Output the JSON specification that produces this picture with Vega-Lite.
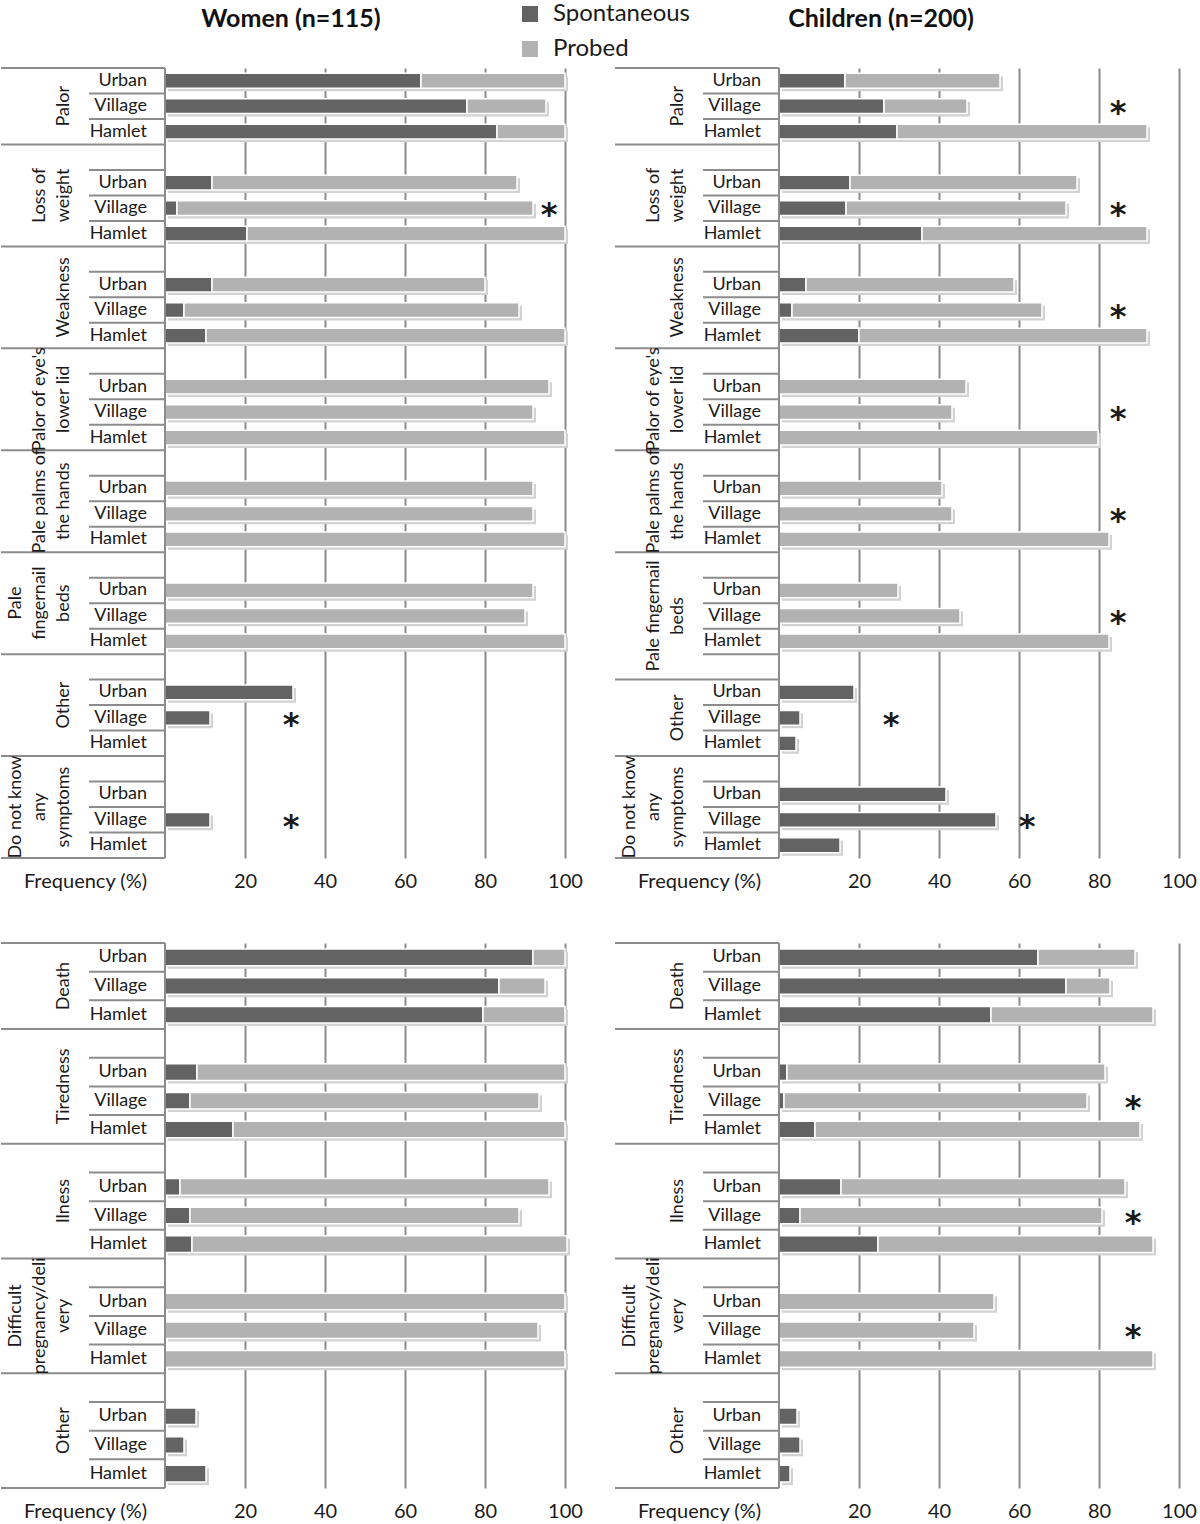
{
"$schema": "https://vega.github.io/schema/vega-lite/v6.json",
"padding": {"top": 2, "left": 0, "right": 0, "bottom": 0},
"background": "white",
"bounds": "flush",
"columns": 2,
"spacing": {"row": 85, "column": 50},
"config": {
  "font": "Lato",
  "view": {"stroke": null},
  "axisX": {"grid": true, "gridColor": "#8c8c8c", "gridWidth": 2, "domain": false, "ticks": false, "labelFontSize": 20, "labelFont": "Lato", "labelColor": "#1a1a1a", "labelBaseline": "middle", "labelPadding": 23, "labelFlush": false, "labelOverlap": false, "titleFont": "Lato", "titleFontSize": 20, "titleFontWeight": "normal", "titleColor": "#1a1a1a", "titleX": 84, "titleY": 23, "titleBaseline": "middle", "titleAlign": "center"},
  "text": {"font": "Lato", "fontSize": 18, "color": "#1a1a1a"},
  "title": {"font": "Lato", "fontSize": 25, "fontWeight": "bold", "color": "#111111", "anchor": "middle", "offset": 35, "baseline": "bottom"}
},
"datasets": {
  "rows": [
    {"panel":"WS","key":"Palor|Urban","sub":"Urban","first":true,"spont":64,"total":100},
    {"panel":"WS","key":"Palor|Village","sub":"Village","first":false,"spont":75.5,"total":95.25},
    {"panel":"WS","key":"Palor|Hamlet","sub":"Hamlet","first":false,"spont":83,"total":100},
    {"panel":"WS","key":"Loss of weight|","sub":"","first":true},
    {"panel":"WS","key":"Loss of weight|Urban","sub":"Urban","first":false,"spont":11.75,"total":88},
    {"panel":"WS","key":"Loss of weight|Village","sub":"Village","first":false,"spont":3,"total":92},
    {"panel":"WS","key":"Loss of weight|Hamlet","sub":"Hamlet","first":false,"spont":20.5,"total":100},
    {"panel":"WS","key":"Weakness|","sub":"","first":true},
    {"panel":"WS","key":"Weakness|Urban","sub":"Urban","first":false,"spont":11.75,"total":80},
    {"panel":"WS","key":"Weakness|Village","sub":"Village","first":false,"spont":4.75,"total":88.5},
    {"panel":"WS","key":"Weakness|Hamlet","sub":"Hamlet","first":false,"spont":10.25,"total":100},
    {"panel":"WS","key":"Palor of eye's lower lid|","sub":"","first":true},
    {"panel":"WS","key":"Palor of eye's lower lid|Urban","sub":"Urban","first":false,"spont":0,"total":96},
    {"panel":"WS","key":"Palor of eye's lower lid|Village","sub":"Village","first":false,"spont":0,"total":92},
    {"panel":"WS","key":"Palor of eye's lower lid|Hamlet","sub":"Hamlet","first":false,"spont":0,"total":100},
    {"panel":"WS","key":"Pale palms of the hands|","sub":"","first":true},
    {"panel":"WS","key":"Pale palms of the hands|Urban","sub":"Urban","first":false,"spont":0,"total":92},
    {"panel":"WS","key":"Pale palms of the hands|Village","sub":"Village","first":false,"spont":0,"total":92},
    {"panel":"WS","key":"Pale palms of the hands|Hamlet","sub":"Hamlet","first":false,"spont":0,"total":100},
    {"panel":"WS","key":"Pale fingernail beds|","sub":"","first":true},
    {"panel":"WS","key":"Pale fingernail beds|Urban","sub":"Urban","first":false,"spont":0,"total":92},
    {"panel":"WS","key":"Pale fingernail beds|Village","sub":"Village","first":false,"spont":0,"total":90},
    {"panel":"WS","key":"Pale fingernail beds|Hamlet","sub":"Hamlet","first":false,"spont":0,"total":100},
    {"panel":"WS","key":"Other|","sub":"","first":true},
    {"panel":"WS","key":"Other|Urban","sub":"Urban","first":false,"spont":32,"total":32},
    {"panel":"WS","key":"Other|Village","sub":"Village","first":false,"spont":11.25,"total":11.25},
    {"panel":"WS","key":"Other|Hamlet","sub":"Hamlet","first":false,"spont":0,"total":0},
    {"panel":"WS","key":"Do not know any symptoms|","sub":"","first":true},
    {"panel":"WS","key":"Do not know any symptoms|Urban","sub":"Urban","first":false,"spont":0,"total":0},
    {"panel":"WS","key":"Do not know any symptoms|Village","sub":"Village","first":false,"spont":11.25,"total":11.25},
    {"panel":"WS","key":"Do not know any symptoms|Hamlet","sub":"Hamlet","first":false,"spont":0,"total":0},

    {"panel":"CS","key":"Palor|Urban","sub":"Urban","first":true,"spont":16.5,"total":55.25},
    {"panel":"CS","key":"Palor|Village","sub":"Village","first":false,"spont":26.25,"total":47},
    {"panel":"CS","key":"Palor|Hamlet","sub":"Hamlet","first":false,"spont":29.5,"total":92},
    {"panel":"CS","key":"Loss of weight|","sub":"","first":true},
    {"panel":"CS","key":"Loss of weight|Urban","sub":"Urban","first":false,"spont":17.75,"total":74.5},
    {"panel":"CS","key":"Loss of weight|Village","sub":"Village","first":false,"spont":16.75,"total":71.75},
    {"panel":"CS","key":"Loss of weight|Hamlet","sub":"Hamlet","first":false,"spont":35.75,"total":92},
    {"panel":"CS","key":"Weakness|","sub":"","first":true},
    {"panel":"CS","key":"Weakness|Urban","sub":"Urban","first":false,"spont":6.75,"total":58.75},
    {"panel":"CS","key":"Weakness|Village","sub":"Village","first":false,"spont":3.25,"total":65.75},
    {"panel":"CS","key":"Weakness|Hamlet","sub":"Hamlet","first":false,"spont":20,"total":92},
    {"panel":"CS","key":"Palor of eye's lower lid|","sub":"","first":true},
    {"panel":"CS","key":"Palor of eye's lower lid|Urban","sub":"Urban","first":false,"spont":0,"total":46.75},
    {"panel":"CS","key":"Palor of eye's lower lid|Village","sub":"Village","first":false,"spont":0,"total":43.25},
    {"panel":"CS","key":"Palor of eye's lower lid|Hamlet","sub":"Hamlet","first":false,"spont":0,"total":79.75},
    {"panel":"CS","key":"Pale palms of the hands|","sub":"","first":true},
    {"panel":"CS","key":"Pale palms of the hands|Urban","sub":"Urban","first":false,"spont":0,"total":40.75},
    {"panel":"CS","key":"Pale palms of the hands|Village","sub":"Village","first":false,"spont":0,"total":43.25},
    {"panel":"CS","key":"Pale palms of the hands|Hamlet","sub":"Hamlet","first":false,"spont":0,"total":82.5},
    {"panel":"CS","key":"Pale fingernail beds|","sub":"","first":true},
    {"panel":"CS","key":"Pale fingernail beds|Urban","sub":"Urban","first":false,"spont":0,"total":29.75},
    {"panel":"CS","key":"Pale fingernail beds|Village","sub":"Village","first":false,"spont":0,"total":45.25},
    {"panel":"CS","key":"Pale fingernail beds|Hamlet","sub":"Hamlet","first":false,"spont":0,"total":82.5},
    {"panel":"CS","key":"Other|","sub":"","first":false},
    {"panel":"CS","key":"Other|Urban","sub":"Urban","first":true,"spont":18.75,"total":18.75},
    {"panel":"CS","key":"Other|Village","sub":"Village","first":false,"spont":5.25,"total":5.25},
    {"panel":"CS","key":"Other|Hamlet","sub":"Hamlet","first":false,"spont":4.25,"total":4.25},
    {"panel":"CS","key":"Do not know any symptoms|","sub":"","first":true},
    {"panel":"CS","key":"Do not know any symptoms|Urban","sub":"Urban","first":false,"spont":41.75,"total":41.75},
    {"panel":"CS","key":"Do not know any symptoms|Village","sub":"Village","first":false,"spont":54.25,"total":54.25},
    {"panel":"CS","key":"Do not know any symptoms|Hamlet","sub":"Hamlet","first":false,"spont":15.25,"total":15.25},

    {"panel":"WC","key":"Death|Urban","sub":"Urban","first":true,"spont":92,"total":100},
    {"panel":"WC","key":"Death|Village","sub":"Village","first":false,"spont":83.5,"total":95},
    {"panel":"WC","key":"Death|Hamlet","sub":"Hamlet","first":false,"spont":79.5,"total":100},
    {"panel":"WC","key":"Tiredness|","sub":"","first":true},
    {"panel":"WC","key":"Tiredness|Urban","sub":"Urban","first":false,"spont":8,"total":100},
    {"panel":"WC","key":"Tiredness|Village","sub":"Village","first":false,"spont":6.25,"total":93.5},
    {"panel":"WC","key":"Tiredness|Hamlet","sub":"Hamlet","first":false,"spont":17,"total":100},
    {"panel":"WC","key":"Ilness|","sub":"","first":true},
    {"panel":"WC","key":"Ilness|Urban","sub":"Urban","first":false,"spont":3.75,"total":96},
    {"panel":"WC","key":"Ilness|Village","sub":"Village","first":false,"spont":6.25,"total":88.5},
    {"panel":"WC","key":"Ilness|Hamlet","sub":"Hamlet","first":false,"spont":6.75,"total":100.5},
    {"panel":"WC","key":"Difficult pregnancy/delivery|","sub":"","first":true},
    {"panel":"WC","key":"Difficult pregnancy/delivery|Urban","sub":"Urban","first":false,"spont":0,"total":100},
    {"panel":"WC","key":"Difficult pregnancy/delivery|Village","sub":"Village","first":false,"spont":0,"total":93.25},
    {"panel":"WC","key":"Difficult pregnancy/delivery|Hamlet","sub":"Hamlet","first":false,"spont":0,"total":100},
    {"panel":"WC","key":"Other|","sub":"","first":true},
    {"panel":"WC","key":"Other|Urban","sub":"Urban","first":false,"spont":7.75,"total":7.75},
    {"panel":"WC","key":"Other|Village","sub":"Village","first":false,"spont":4.75,"total":4.75},
    {"panel":"WC","key":"Other|Hamlet","sub":"Hamlet","first":false,"spont":10.25,"total":10.25},

    {"panel":"CC","key":"Death|Urban","sub":"Urban","first":true,"spont":64.75,"total":89},
    {"panel":"CC","key":"Death|Village","sub":"Village","first":false,"spont":71.75,"total":82.75},
    {"panel":"CC","key":"Death|Hamlet","sub":"Hamlet","first":false,"spont":53,"total":93.5},
    {"panel":"CC","key":"Tiredness|","sub":"","first":true},
    {"panel":"CC","key":"Tiredness|Urban","sub":"Urban","first":false,"spont":2,"total":81.5},
    {"panel":"CC","key":"Tiredness|Village","sub":"Village","first":false,"spont":1.25,"total":77},
    {"panel":"CC","key":"Tiredness|Hamlet","sub":"Hamlet","first":false,"spont":9,"total":90.25},
    {"panel":"CC","key":"Ilness|","sub":"","first":true},
    {"panel":"CC","key":"Ilness|Urban","sub":"Urban","first":false,"spont":15.5,"total":86.5},
    {"panel":"CC","key":"Ilness|Village","sub":"Village","first":false,"spont":5.25,"total":80.75},
    {"panel":"CC","key":"Ilness|Hamlet","sub":"Hamlet","first":false,"spont":24.75,"total":93.5},
    {"panel":"CC","key":"Difficult pregnancy/delivery|","sub":"","first":true},
    {"panel":"CC","key":"Difficult pregnancy/delivery|Urban","sub":"Urban","first":false,"spont":0,"total":53.75},
    {"panel":"CC","key":"Difficult pregnancy/delivery|Village","sub":"Village","first":false,"spont":0,"total":48.75},
    {"panel":"CC","key":"Difficult pregnancy/delivery|Hamlet","sub":"Hamlet","first":false,"spont":0,"total":93.5},
    {"panel":"CC","key":"Other|","sub":"","first":true},
    {"panel":"CC","key":"Other|Urban","sub":"Urban","first":false,"spont":4.5,"total":4.5},
    {"panel":"CC","key":"Other|Village","sub":"Village","first":false,"spont":5.25,"total":5.25},
    {"panel":"CC","key":"Other|Hamlet","sub":"Hamlet","first":false,"spont":2.75,"total":2.75}
  ],
  "groups": [
    {"panel":"WS","label":"Palor","akey":"Palor|Village","mid":true},
    {"panel":"WS","label":"Loss of\nweight","akey":"Loss of weight|Village","mid":false},
    {"panel":"WS","label":"Weakness","akey":"Weakness|Village","mid":false},
    {"panel":"WS","label":"Palor of eye's\nlower lid","akey":"Palor of eye's lower lid|Village","mid":false},
    {"panel":"WS","label":"Pale palms of\nthe hands","akey":"Pale palms of the hands|Village","mid":false},
    {"panel":"WS","label":"Pale\nfingernail\nbeds","akey":"Pale fingernail beds|Village","mid":false},
    {"panel":"WS","label":"Other","akey":"Other|Village","mid":false},
    {"panel":"WS","label":"Do not know\nany\nsymptoms","akey":"Do not know any symptoms|Village","mid":false},
    {"panel":"CS","label":"Palor","akey":"Palor|Village","mid":true},
    {"panel":"CS","label":"Loss of\nweight","akey":"Loss of weight|Village","mid":false},
    {"panel":"CS","label":"Weakness","akey":"Weakness|Village","mid":false},
    {"panel":"CS","label":"Palor of eye's\nlower lid","akey":"Palor of eye's lower lid|Village","mid":false},
    {"panel":"CS","label":"Pale palms of\nthe hands","akey":"Pale palms of the hands|Village","mid":false},
    {"panel":"CS","label":"Pale fingernail\nbeds","akey":"Pale fingernail beds|Village","mid":true},
    {"panel":"CS","label":"Other","akey":"Other|Village","mid":true},
    {"panel":"CS","label":"Do not know\nany\nsymptoms","akey":"Do not know any symptoms|Village","mid":false},
    {"panel":"WC","label":"Death","akey":"Death|Village","mid":true},
    {"panel":"WC","label":"Tiredness","akey":"Tiredness|Village","mid":false},
    {"panel":"WC","label":"Ilness","akey":"Ilness|Village","mid":false},
    {"panel":"WC","label":"Difficult\npregnancy/deli\nvery","akey":"Difficult pregnancy/delivery|Village","mid":false},
    {"panel":"WC","label":"Other","akey":"Other|Village","mid":false},
    {"panel":"CC","label":"Death","akey":"Death|Village","mid":true},
    {"panel":"CC","label":"Tiredness","akey":"Tiredness|Village","mid":false},
    {"panel":"CC","label":"Ilness","akey":"Ilness|Village","mid":false},
    {"panel":"CC","label":"Difficult\npregnancy/deli\nvery","akey":"Difficult pregnancy/delivery|Village","mid":false},
    {"panel":"CC","label":"Other","akey":"Other|Village","mid":false}
  ],
  "stars": [
    {"panel":"WS","akey":"Loss of weight|Village","x":96},
    {"panel":"WS","akey":"Other|Village","x":31.5},
    {"panel":"WS","akey":"Do not know any symptoms|Village","x":31.5},
    {"panel":"CS","akey":"Palor|Village","x":84.75},
    {"panel":"CS","akey":"Loss of weight|Village","x":84.75},
    {"panel":"CS","akey":"Weakness|Village","x":84.75},
    {"panel":"CS","akey":"Palor of eye's lower lid|Village","x":84.75},
    {"panel":"CS","akey":"Pale palms of the hands|Village","x":84.75},
    {"panel":"CS","akey":"Pale fingernail beds|Village","x":84.75},
    {"panel":"CS","akey":"Other|Village","x":28},
    {"panel":"CS","akey":"Do not know any symptoms|Village","x":62},
    {"panel":"CC","akey":"Tiredness|Village","x":88.5},
    {"panel":"CC","akey":"Ilness|Village","x":88.5},
    {"panel":"CC","akey":"Difficult pregnancy/delivery|Village","x":88.5}
  ]
},
"concat": [
{
  "width": 564, "height": 790,
  "title": {"text": "Women (n=115)", "dx": 8},
  "data": {"name": "rows"},
  "transform": [{"filter": "datum.panel === 'WS'"}],
  "layer": [
    {"transform": [{"filter": "!datum.first"}],
     "mark": {"type": "rule", "color": "#8c8c8c", "strokeWidth": 2},
     "encoding": {
       "y": {"field": "key", "type": "nominal", "bandPosition": 0, "axis": null,
             "scale": {"paddingInner": 0, "paddingOuter": 0, "domain": ["Palor|Urban","Palor|Village","Palor|Hamlet","Loss of weight|","Loss of weight|Urban","Loss of weight|Village","Loss of weight|Hamlet","Weakness|","Weakness|Urban","Weakness|Village","Weakness|Hamlet","Palor of eye's lower lid|","Palor of eye's lower lid|Urban","Palor of eye's lower lid|Village","Palor of eye's lower lid|Hamlet","Pale palms of the hands|","Pale palms of the hands|Urban","Pale palms of the hands|Village","Pale palms of the hands|Hamlet","Pale fingernail beds|","Pale fingernail beds|Urban","Pale fingernail beds|Village","Pale fingernail beds|Hamlet","Other|","Other|Urban","Other|Village","Other|Hamlet","Do not know any symptoms|","Do not know any symptoms|Urban","Do not know any symptoms|Village","Do not know any symptoms|Hamlet"]}},
       "x": {"datum": -19, "type": "quantitative", "scale": {"domain": [-41, 100], "nice": false, "zero": false},
             "axis": {"values": [20, 40, 60, 80, 100], "title": "Frequency (%)"}},
       "x2": {"datum": 0, "type": "quantitative"}}},
    {"transform": [{"filter": "datum.first"}],
     "mark": {"type": "rule", "color": "#8c8c8c", "strokeWidth": 2},
     "encoding": {"y": {"field": "key", "type": "nominal", "bandPosition": 0}, "x": {"datum": -41, "type": "quantitative"}, "x2": {"datum": 0, "type": "quantitative"}}},
    {"transform": [{"filter": "datum.key === 'Do not know any symptoms|Hamlet'"}],
     "mark": {"type": "rule", "color": "#8c8c8c", "strokeWidth": 2},
     "encoding": {"y": {"field": "key", "type": "nominal", "bandPosition": 1}, "x": {"datum": -41, "type": "quantitative"}, "x2": {"datum": 0, "type": "quantitative"}}},
    {"transform": [{"filter": "datum.total > 0"}],
     "mark": {"type": "bar", "height": {"band": 0.58}, "color": "#d2d2d2", "xOffset": 3, "x2Offset": 3, "yOffset": 3, "y2Offset": 3},
     "encoding": {"y": {"field": "key", "type": "nominal"}, "x": {"field": "total", "type": "quantitative"}}},
    {"transform": [{"filter": "datum.spont > 0"}],
     "mark": {"type": "bar", "height": {"band": 0.58}, "stroke": "white", "strokeWidth": 1.5},
     "encoding": {"y": {"field": "key", "type": "nominal"}, "x": {"field": "spont", "type": "quantitative"},
       "color": {"datum": "Spontaneous", "type": "nominal",
         "scale": {"domain": ["Spontaneous", "Probed"], "range": ["#636363", "#b2b2b2"]},
         "legend": {"orient": "none", "legendX": 517, "legendY": -66, "title": null, "symbolType": "square", "symbolSize": 256, "symbolStrokeWidth": 0, "labelFontSize": 24, "labelFont": "Lato", "labelColor": "#1a1a1a", "labelOffset": 11, "rowPadding": 11, "padding": 0, "direction": "vertical"}}}},
    {"transform": [{"filter": "datum.total > datum.spont"}],
     "mark": {"type": "bar", "height": {"band": 0.58}, "stroke": "white", "strokeWidth": 1.5},
     "encoding": {"y": {"field": "key", "type": "nominal"}, "x": {"field": "spont", "type": "quantitative"}, "x2": {"field": "total"},
       "color": {"datum": "Probed", "type": "nominal"}}},
    {"data": {"values": [{}]},
     "mark": {"type": "rule", "color": "#8c8c8c", "strokeWidth": 2},
     "encoding": {"x": {"datum": 0, "type": "quantitative"}}},
    {"transform": [{"filter": "datum.sub !== ''"}],
     "mark": {"type": "text", "align": "right", "baseline": "middle"},
     "encoding": {"y": {"field": "key", "type": "nominal"}, "x": {"datum": -4.5, "type": "quantitative"}, "text": {"field": "sub", "type": "nominal"}}},
    {"data": {"name": "groups"}, "transform": [{"filter": "datum.panel === 'WS' && datum.mid && length(split(datum.label, '\\n')) === 1"}],
     "mark": {"type": "text", "angle": 270, "align": "center", "baseline": "bottom", "lineBreak": "\n", "lineHeight": 24},
     "encoding": {"y": {"field": "akey", "type": "nominal", "bandPosition": 0.5}, "x": {"datum": -23, "type": "quantitative"}, "text": {"field": "label", "type": "nominal"}}},
    {"data": {"name": "groups"}, "transform": [{"filter": "datum.panel === 'WS' && !datum.mid && length(split(datum.label, '\\n')) === 1"}],
     "mark": {"type": "text", "angle": 270, "align": "center", "baseline": "bottom", "lineBreak": "\n", "lineHeight": 24},
     "encoding": {"y": {"field": "akey", "type": "nominal", "bandPosition": 0}, "x": {"datum": -23, "type": "quantitative"}, "text": {"field": "label", "type": "nominal"}}},
    {"data": {"name": "groups"}, "transform": [{"filter": "datum.panel === 'WS' && !datum.mid && length(split(datum.label, '\\n')) === 2"}],
     "mark": {"type": "text", "angle": 270, "align": "center", "baseline": "bottom", "lineBreak": "\n", "lineHeight": 24},
     "encoding": {"y": {"field": "akey", "type": "nominal", "bandPosition": 0}, "x": {"datum": -29, "type": "quantitative"}, "text": {"field": "label", "type": "nominal"}}},
    {"data": {"name": "groups"}, "transform": [{"filter": "datum.panel === 'WS' && !datum.mid && length(split(datum.label, '\\n')) === 3"}],
     "mark": {"type": "text", "angle": 270, "align": "center", "baseline": "bottom", "lineBreak": "\n", "lineHeight": 24},
     "encoding": {"y": {"field": "akey", "type": "nominal", "bandPosition": 0}, "x": {"datum": -35, "type": "quantitative"}, "text": {"field": "label", "type": "nominal"}}},
    {"data": {"name": "stars"}, "transform": [{"filter": "datum.panel === 'WS'"}],
     "mark": {"type": "text", "font": "DejaVu Sans", "fontWeight": "bold", "fontSize": 32, "align": "center", "baseline": "alphabetic", "dy": 17},
     "encoding": {"y": {"field": "akey", "type": "nominal"}, "x": {"field": "x", "type": "quantitative"}, "text": {"value": "*"}}}
  ]
},
{
  "width": 564, "height": 790,
  "title": {"text": "Children (n=200)", "dx": -16},
  "data": {"name": "rows"},
  "transform": [{"filter": "datum.panel === 'CS'"}],
  "layer": [
    {"transform": [{"filter": "!datum.first"}],
     "mark": {"type": "rule", "color": "#8c8c8c", "strokeWidth": 2},
     "encoding": {
       "y": {"field": "key", "type": "nominal", "bandPosition": 0, "axis": null,
             "scale": {"paddingInner": 0, "paddingOuter": 0, "domain": ["Palor|Urban","Palor|Village","Palor|Hamlet","Loss of weight|","Loss of weight|Urban","Loss of weight|Village","Loss of weight|Hamlet","Weakness|","Weakness|Urban","Weakness|Village","Weakness|Hamlet","Palor of eye's lower lid|","Palor of eye's lower lid|Urban","Palor of eye's lower lid|Village","Palor of eye's lower lid|Hamlet","Pale palms of the hands|","Pale palms of the hands|Urban","Pale palms of the hands|Village","Pale palms of the hands|Hamlet","Pale fingernail beds|","Pale fingernail beds|Urban","Pale fingernail beds|Village","Pale fingernail beds|Hamlet","Other|","Other|Urban","Other|Village","Other|Hamlet","Do not know any symptoms|","Do not know any symptoms|Urban","Do not know any symptoms|Village","Do not know any symptoms|Hamlet"]}},
       "x": {"datum": -19, "type": "quantitative", "scale": {"domain": [-41, 100], "nice": false, "zero": false},
             "axis": {"values": [20, 40, 60, 80, 100], "title": "Frequency (%)"}},
       "x2": {"datum": 0, "type": "quantitative"}}},
    {"transform": [{"filter": "datum.first"}],
     "mark": {"type": "rule", "color": "#8c8c8c", "strokeWidth": 2},
     "encoding": {"y": {"field": "key", "type": "nominal", "bandPosition": 0}, "x": {"datum": -41, "type": "quantitative"}, "x2": {"datum": 0, "type": "quantitative"}}},
    {"transform": [{"filter": "datum.key === 'Do not know any symptoms|Hamlet'"}],
     "mark": {"type": "rule", "color": "#8c8c8c", "strokeWidth": 2},
     "encoding": {"y": {"field": "key", "type": "nominal", "bandPosition": 1}, "x": {"datum": -41, "type": "quantitative"}, "x2": {"datum": 0, "type": "quantitative"}}},
    {"transform": [{"filter": "datum.total > 0"}],
     "mark": {"type": "bar", "height": {"band": 0.58}, "color": "#d2d2d2", "xOffset": 3, "x2Offset": 3, "yOffset": 3, "y2Offset": 3},
     "encoding": {"y": {"field": "key", "type": "nominal"}, "x": {"field": "total", "type": "quantitative"}}},
    {"transform": [{"filter": "datum.spont > 0"}],
     "mark": {"type": "bar", "height": {"band": 0.58}, "stroke": "white", "strokeWidth": 1.5},
     "encoding": {"y": {"field": "key", "type": "nominal"}, "x": {"field": "spont", "type": "quantitative"},
       "color": {"datum": "Spontaneous", "type": "nominal"}}},
    {"transform": [{"filter": "datum.total > datum.spont"}],
     "mark": {"type": "bar", "height": {"band": 0.58}, "stroke": "white", "strokeWidth": 1.5},
     "encoding": {"y": {"field": "key", "type": "nominal"}, "x": {"field": "spont", "type": "quantitative"}, "x2": {"field": "total"},
       "color": {"datum": "Probed", "type": "nominal"}}},
    {"data": {"values": [{}]},
     "mark": {"type": "rule", "color": "#8c8c8c", "strokeWidth": 2},
     "encoding": {"x": {"datum": 0, "type": "quantitative"}}},
    {"transform": [{"filter": "datum.sub !== ''"}],
     "mark": {"type": "text", "align": "right", "baseline": "middle"},
     "encoding": {"y": {"field": "key", "type": "nominal"}, "x": {"datum": -4.5, "type": "quantitative"}, "text": {"field": "sub", "type": "nominal"}}},
    {"data": {"name": "groups"}, "transform": [{"filter": "datum.panel === 'CS' && datum.mid && length(split(datum.label, '\\n')) === 1"}],
     "mark": {"type": "text", "angle": 270, "align": "center", "baseline": "bottom", "lineBreak": "\n", "lineHeight": 24},
     "encoding": {"y": {"field": "akey", "type": "nominal", "bandPosition": 0.5}, "x": {"datum": -23, "type": "quantitative"}, "text": {"field": "label", "type": "nominal"}}},
    {"data": {"name": "groups"}, "transform": [{"filter": "datum.panel === 'CS' && datum.mid && length(split(datum.label, '\\n')) === 2"}],
     "mark": {"type": "text", "angle": 270, "align": "center", "baseline": "bottom", "lineBreak": "\n", "lineHeight": 24},
     "encoding": {"y": {"field": "akey", "type": "nominal", "bandPosition": 0.5}, "x": {"datum": -29, "type": "quantitative"}, "text": {"field": "label", "type": "nominal"}}},
    {"data": {"name": "groups"}, "transform": [{"filter": "datum.panel === 'CS' && !datum.mid && length(split(datum.label, '\\n')) === 1"}],
     "mark": {"type": "text", "angle": 270, "align": "center", "baseline": "bottom", "lineBreak": "\n", "lineHeight": 24},
     "encoding": {"y": {"field": "akey", "type": "nominal", "bandPosition": 0}, "x": {"datum": -23, "type": "quantitative"}, "text": {"field": "label", "type": "nominal"}}},
    {"data": {"name": "groups"}, "transform": [{"filter": "datum.panel === 'CS' && !datum.mid && length(split(datum.label, '\\n')) === 2"}],
     "mark": {"type": "text", "angle": 270, "align": "center", "baseline": "bottom", "lineBreak": "\n", "lineHeight": 24},
     "encoding": {"y": {"field": "akey", "type": "nominal", "bandPosition": 0}, "x": {"datum": -29, "type": "quantitative"}, "text": {"field": "label", "type": "nominal"}}},
    {"data": {"name": "groups"}, "transform": [{"filter": "datum.panel === 'CS' && !datum.mid && length(split(datum.label, '\\n')) === 3"}],
     "mark": {"type": "text", "angle": 270, "align": "center", "baseline": "bottom", "lineBreak": "\n", "lineHeight": 24},
     "encoding": {"y": {"field": "akey", "type": "nominal", "bandPosition": 0}, "x": {"datum": -35, "type": "quantitative"}, "text": {"field": "label", "type": "nominal"}}},
    {"data": {"name": "stars"}, "transform": [{"filter": "datum.panel === 'CS'"}],
     "mark": {"type": "text", "font": "DejaVu Sans", "fontWeight": "bold", "fontSize": 32, "align": "center", "baseline": "alphabetic", "dy": 17},
     "encoding": {"y": {"field": "akey", "type": "nominal"}, "x": {"field": "x", "type": "quantitative"}, "text": {"value": "*"}}}
  ]
},
{
  "width": 564, "height": 545,
  "data": {"name": "rows"},
  "transform": [{"filter": "datum.panel === 'WC'"}],
  "layer": [
    {"transform": [{"filter": "!datum.first"}],
     "mark": {"type": "rule", "color": "#8c8c8c", "strokeWidth": 2},
     "encoding": {
       "y": {"field": "key", "type": "nominal", "bandPosition": 0, "axis": null,
             "scale": {"paddingInner": 0, "paddingOuter": 0, "domain": ["Death|Urban","Death|Village","Death|Hamlet","Tiredness|","Tiredness|Urban","Tiredness|Village","Tiredness|Hamlet","Ilness|","Ilness|Urban","Ilness|Village","Ilness|Hamlet","Difficult pregnancy/delivery|","Difficult pregnancy/delivery|Urban","Difficult pregnancy/delivery|Village","Difficult pregnancy/delivery|Hamlet","Other|","Other|Urban","Other|Village","Other|Hamlet"]}},
       "x": {"datum": -19, "type": "quantitative", "scale": {"domain": [-41, 100], "nice": false, "zero": false},
             "axis": {"values": [20, 40, 60, 80, 100], "title": "Frequency (%)"}},
       "x2": {"datum": 0, "type": "quantitative"}}},
    {"transform": [{"filter": "datum.first"}],
     "mark": {"type": "rule", "color": "#8c8c8c", "strokeWidth": 2},
     "encoding": {"y": {"field": "key", "type": "nominal", "bandPosition": 0}, "x": {"datum": -41, "type": "quantitative"}, "x2": {"datum": 0, "type": "quantitative"}}},
    {"transform": [{"filter": "datum.key === 'Other|Hamlet'"}],
     "mark": {"type": "rule", "color": "#8c8c8c", "strokeWidth": 2},
     "encoding": {"y": {"field": "key", "type": "nominal", "bandPosition": 1}, "x": {"datum": -41, "type": "quantitative"}, "x2": {"datum": 0, "type": "quantitative"}}},
    {"transform": [{"filter": "datum.total > 0"}],
     "mark": {"type": "bar", "height": {"band": 0.58}, "color": "#d2d2d2", "xOffset": 3, "x2Offset": 3, "yOffset": 3, "y2Offset": 3},
     "encoding": {"y": {"field": "key", "type": "nominal"}, "x": {"field": "total", "type": "quantitative"}}},
    {"transform": [{"filter": "datum.spont > 0"}],
     "mark": {"type": "bar", "height": {"band": 0.58}, "stroke": "white", "strokeWidth": 1.5},
     "encoding": {"y": {"field": "key", "type": "nominal"}, "x": {"field": "spont", "type": "quantitative"},
       "color": {"datum": "Spontaneous", "type": "nominal"}}},
    {"transform": [{"filter": "datum.total > datum.spont"}],
     "mark": {"type": "bar", "height": {"band": 0.58}, "stroke": "white", "strokeWidth": 1.5},
     "encoding": {"y": {"field": "key", "type": "nominal"}, "x": {"field": "spont", "type": "quantitative"}, "x2": {"field": "total"},
       "color": {"datum": "Probed", "type": "nominal"}}},
    {"data": {"values": [{}]},
     "mark": {"type": "rule", "color": "#8c8c8c", "strokeWidth": 2},
     "encoding": {"x": {"datum": 0, "type": "quantitative"}}},
    {"transform": [{"filter": "datum.sub !== ''"}],
     "mark": {"type": "text", "align": "right", "baseline": "middle"},
     "encoding": {"y": {"field": "key", "type": "nominal"}, "x": {"datum": -4.5, "type": "quantitative"}, "text": {"field": "sub", "type": "nominal"}}},
    {"data": {"name": "groups"}, "transform": [{"filter": "datum.panel === 'WC' && datum.mid && length(split(datum.label, '\\n')) === 1"}],
     "mark": {"type": "text", "angle": 270, "align": "center", "baseline": "bottom", "lineBreak": "\n", "lineHeight": 24},
     "encoding": {"y": {"field": "akey", "type": "nominal", "bandPosition": 0.5}, "x": {"datum": -23, "type": "quantitative"}, "text": {"field": "label", "type": "nominal"}}},
    {"data": {"name": "groups"}, "transform": [{"filter": "datum.panel === 'WC' && !datum.mid && length(split(datum.label, '\\n')) === 1"}],
     "mark": {"type": "text", "angle": 270, "align": "center", "baseline": "bottom", "lineBreak": "\n", "lineHeight": 24},
     "encoding": {"y": {"field": "akey", "type": "nominal", "bandPosition": 0}, "x": {"datum": -23, "type": "quantitative"}, "text": {"field": "label", "type": "nominal"}}},
    {"data": {"name": "groups"}, "transform": [{"filter": "datum.panel === 'WC' && !datum.mid && length(split(datum.label, '\\n')) === 3"}],
     "mark": {"type": "text", "angle": 270, "align": "center", "baseline": "bottom", "lineBreak": "\n", "lineHeight": 24},
     "encoding": {"y": {"field": "akey", "type": "nominal", "bandPosition": 0}, "x": {"datum": -35, "type": "quantitative"}, "text": {"field": "label", "type": "nominal"}}}
  ]
},
{
  "width": 564, "height": 545,
  "data": {"name": "rows"},
  "transform": [{"filter": "datum.panel === 'CC'"}],
  "layer": [
    {"transform": [{"filter": "!datum.first"}],
     "mark": {"type": "rule", "color": "#8c8c8c", "strokeWidth": 2},
     "encoding": {
       "y": {"field": "key", "type": "nominal", "bandPosition": 0, "axis": null,
             "scale": {"paddingInner": 0, "paddingOuter": 0, "domain": ["Death|Urban","Death|Village","Death|Hamlet","Tiredness|","Tiredness|Urban","Tiredness|Village","Tiredness|Hamlet","Ilness|","Ilness|Urban","Ilness|Village","Ilness|Hamlet","Difficult pregnancy/delivery|","Difficult pregnancy/delivery|Urban","Difficult pregnancy/delivery|Village","Difficult pregnancy/delivery|Hamlet","Other|","Other|Urban","Other|Village","Other|Hamlet"]}},
       "x": {"datum": -19, "type": "quantitative", "scale": {"domain": [-41, 100], "nice": false, "zero": false},
             "axis": {"values": [20, 40, 60, 80, 100], "title": "Frequency (%)"}},
       "x2": {"datum": 0, "type": "quantitative"}}},
    {"transform": [{"filter": "datum.first"}],
     "mark": {"type": "rule", "color": "#8c8c8c", "strokeWidth": 2},
     "encoding": {"y": {"field": "key", "type": "nominal", "bandPosition": 0}, "x": {"datum": -41, "type": "quantitative"}, "x2": {"datum": 0, "type": "quantitative"}}},
    {"transform": [{"filter": "datum.key === 'Other|Hamlet'"}],
     "mark": {"type": "rule", "color": "#8c8c8c", "strokeWidth": 2},
     "encoding": {"y": {"field": "key", "type": "nominal", "bandPosition": 1}, "x": {"datum": -41, "type": "quantitative"}, "x2": {"datum": 0, "type": "quantitative"}}},
    {"transform": [{"filter": "datum.total > 0"}],
     "mark": {"type": "bar", "height": {"band": 0.58}, "color": "#d2d2d2", "xOffset": 3, "x2Offset": 3, "yOffset": 3, "y2Offset": 3},
     "encoding": {"y": {"field": "key", "type": "nominal"}, "x": {"field": "total", "type": "quantitative"}}},
    {"transform": [{"filter": "datum.spont > 0"}],
     "mark": {"type": "bar", "height": {"band": 0.58}, "stroke": "white", "strokeWidth": 1.5},
     "encoding": {"y": {"field": "key", "type": "nominal"}, "x": {"field": "spont", "type": "quantitative"},
       "color": {"datum": "Spontaneous", "type": "nominal"}}},
    {"transform": [{"filter": "datum.total > datum.spont"}],
     "mark": {"type": "bar", "height": {"band": 0.58}, "stroke": "white", "strokeWidth": 1.5},
     "encoding": {"y": {"field": "key", "type": "nominal"}, "x": {"field": "spont", "type": "quantitative"}, "x2": {"field": "total"},
       "color": {"datum": "Probed", "type": "nominal"}}},
    {"data": {"values": [{}]},
     "mark": {"type": "rule", "color": "#8c8c8c", "strokeWidth": 2},
     "encoding": {"x": {"datum": 0, "type": "quantitative"}}},
    {"transform": [{"filter": "datum.sub !== ''"}],
     "mark": {"type": "text", "align": "right", "baseline": "middle"},
     "encoding": {"y": {"field": "key", "type": "nominal"}, "x": {"datum": -4.5, "type": "quantitative"}, "text": {"field": "sub", "type": "nominal"}}},
    {"data": {"name": "groups"}, "transform": [{"filter": "datum.panel === 'CC' && datum.mid && length(split(datum.label, '\\n')) === 1"}],
     "mark": {"type": "text", "angle": 270, "align": "center", "baseline": "bottom", "lineBreak": "\n", "lineHeight": 24},
     "encoding": {"y": {"field": "akey", "type": "nominal", "bandPosition": 0.5}, "x": {"datum": -23, "type": "quantitative"}, "text": {"field": "label", "type": "nominal"}}},
    {"data": {"name": "groups"}, "transform": [{"filter": "datum.panel === 'CC' && !datum.mid && length(split(datum.label, '\\n')) === 1"}],
     "mark": {"type": "text", "angle": 270, "align": "center", "baseline": "bottom", "lineBreak": "\n", "lineHeight": 24},
     "encoding": {"y": {"field": "akey", "type": "nominal", "bandPosition": 0}, "x": {"datum": -23, "type": "quantitative"}, "text": {"field": "label", "type": "nominal"}}},
    {"data": {"name": "groups"}, "transform": [{"filter": "datum.panel === 'CC' && !datum.mid && length(split(datum.label, '\\n')) === 3"}],
     "mark": {"type": "text", "angle": 270, "align": "center", "baseline": "bottom", "lineBreak": "\n", "lineHeight": 24},
     "encoding": {"y": {"field": "akey", "type": "nominal", "bandPosition": 0}, "x": {"datum": -35, "type": "quantitative"}, "text": {"field": "label", "type": "nominal"}}},
    {"data": {"name": "stars"}, "transform": [{"filter": "datum.panel === 'CC'"}],
     "mark": {"type": "text", "font": "DejaVu Sans", "fontWeight": "bold", "fontSize": 32, "align": "center", "baseline": "alphabetic", "dy": 17},
     "encoding": {"y": {"field": "akey", "type": "nominal"}, "x": {"field": "x", "type": "quantitative"}, "text": {"value": "*"}}}
  ]
}
]
}
